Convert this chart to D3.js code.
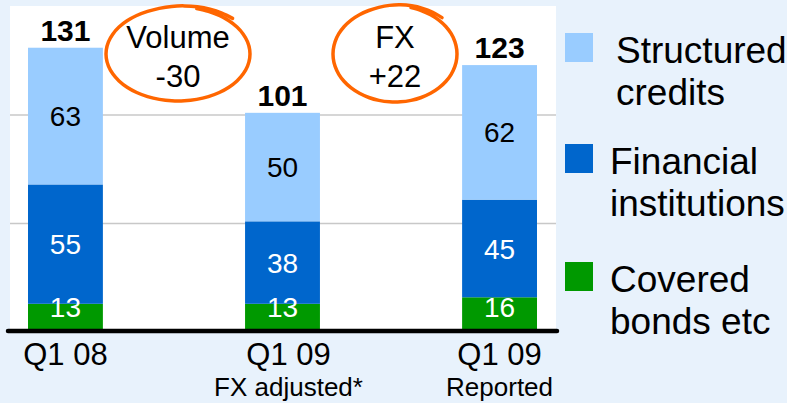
<!DOCTYPE html>
<html lang="en">
<head>
  <meta charset="UTF-8">
  <title>Structured credits, financial institutions, covered bonds</title>
  <script src="https://d3js.org/d3.v7.min.js"></script>
  <style>
    body {
      margin: 0;
      overflow: hidden;
      background: #e8f2fc;
    }
    svg {
      width: 787px;
      height: 403px;
      display: block;
      font-family: "Liberation Sans", Arial, sans-serif;
    }
  </style>
</head>
<body>

<svg></svg>

<script>
// data
const categories = ['Q1 08', 'Q1 09', 'Q1 09 R'];
const catLine1 = ['Q1 08', 'Q1 09', 'Q1 09'];
const catLine2 = ['', 'FX adjusted*', 'Reported'];
const seriesNames = ['Covered bonds etc', 'Financial institutions', 'Structured credits'];
const covered = [13, 13, 16];
const financial = [55, 38, 45];
const structured = [63, 50, 62];
const totals = [131, 101, 123];
const yTicks = [50, 100];

// the two circled bridge notes between the bars
const notes = [
  { label: 'Volume', value: '-30', cx: 178, cy: 54, rx: 72, ry: 47 },
  { label: 'FX', value: '+22', cx: 395, cy: 54, rx: 62, ry: 48 }
];

const colors = ['#009900', '#0066cc', '#99ccff'];
const labelColors = ['#ffffff', '#ffffff', '#000000'];

const width = 787;
const height = 403;
const plot = { left: 10, right: 556, top: 6, bottom: 332 };

const svg = d3.select('svg')
  .attr('viewBox', `0 0 ${width} ${height}`);

// white plot area
svg.append('rect')
  .attr('x', plot.left)
  .attr('y', plot.top)
  .attr('width', plot.right - plot.left)
  .attr('height', plot.bottom - plot.top)
  .attr('fill', '#ffffff');

const x = d3.scaleBand()
  .domain(categories)
  .range([28, 537])
  .paddingInner(0.655)
  .paddingOuter(0);

const y = d3.scaleLinear()
  .domain([0, 150])
  .range([plot.bottom, 6.5]);

// gridlines
svg.append('g')
  .selectAll('line')
  .data(yTicks)
  .enter().append('line')
  .attr('x1', plot.left)
  .attr('x2', plot.right)
  .attr('y1', d => y(d))
  .attr('y2', d => y(d))
  .attr('stroke', '#c8c8c8')
  .attr('stroke-width', 1.5);

// stack
const rows = categories.map((c, i) => ({
  cat: c,
  covered: covered[i],
  financial: financial[i],
  structured: structured[i]
}));
const stack = d3.stack().keys(['covered', 'financial', 'structured'])(rows);

const layer = svg.append('g')
  .selectAll('g')
  .data(stack)
  .enter().append('g')
  .attr('fill', (d, i) => colors[i]);

layer.selectAll('rect')
  .data(d => d)
  .enter().append('rect')
  .attr('x', d => x(d.data.cat))
  .attr('width', x.bandwidth())
  .attr('y', d => y(d[1]))
  .attr('height', d => y(d[0]) - y(d[1]));

// value labels inside segments
stack.forEach((s, si) => {
  svg.append('g')
    .selectAll('text')
    .data(s)
    .enter().append('text')
    .attr('x', d => x(d.data.cat) + x.bandwidth() / 2)
    .attr('y', d => Math.min((y(d[0]) + y(d[1])) / 2, y(0) - 25))
    .attr('dy', '0.36em')
    .attr('text-anchor', 'middle')
    .attr('font-size', 28)
    .attr('fill', labelColors[si])
    .text(d => d[1] - d[0]);
});

// totals
svg.append('g')
  .selectAll('text')
  .data(totals)
  .enter().append('text')
  .attr('x', (d, i) => x(categories[i]) + x.bandwidth() / 2)
  .attr('y', d => y(d) - 7)
  .attr('text-anchor', 'middle')
  .attr('font-size', 30)
  .attr('font-weight', 'bold')
  .attr('fill', '#000')
  .text(d => d);

// baseline
svg.append('line')
  .attr('x1', 8)
  .attr('x2', plot.right + 1)
  .attr('y1', y(0) - 1)
  .attr('y2', y(0) - 1)
  .attr('stroke', '#000')
  .attr('stroke-width', 4.5)
  .attr('stroke-linecap', 'round');

// category labels
const cat = svg.append('g')
  .selectAll('g')
  .data(categories)
  .enter().append('g')
  .attr('transform', (d, i) => `translate(${x(d) + x.bandwidth() / 2 + (i === 1 ? 6 : 0)},0)`);

cat.append('text')
  .attr('y', 365)
  .attr('text-anchor', 'middle')
  .attr('font-size', 31)
  .text((d, i) => catLine1[i]);

cat.append('text')
  .attr('y', 396)
  .attr('text-anchor', 'middle')
  .attr('font-size', 26)
  .text((d, i) => catLine2[i]);

// circled notes: a hand-drawn looking loop with a small overshoot
const loopLine = d3.line().curve(d3.curveCatmullRom);
notes.forEach(n => {
  const pts = [];
  for (let a = -75; a <= 320; a += 10) {
    const t = a * Math.PI / 180;
    const grow = a > 250 ? 1 + (a - 250) / 900 : 1;
    pts.push([n.cx + n.rx * grow * Math.cos(t), n.cy + n.ry * grow * Math.sin(t)]);
  }
  svg.append('path')
    .attr('d', loopLine(pts))
    .attr('fill', 'none')
    .attr('stroke', '#ff6600')
    .attr('stroke-width', 3.5)
    .attr('stroke-linecap', 'round');

  svg.append('text')
    .attr('x', n.cx)
    .attr('y', n.cy - 6)
    .attr('text-anchor', 'middle')
    .attr('font-size', 31)
    .text(n.label);
  svg.append('text')
    .attr('x', n.cx)
    .attr('y', n.cy + 33)
    .attr('text-anchor', 'middle')
    .attr('font-size', 31)
    .text(n.value);
});

// legend, top to bottom
const legendItems = [
  { color: colors[2], lines: ['Structured', 'credits'], y: 33, dx: 51 },
  { color: colors[1], lines: ['Financial', 'institutions'], y: 144, dx: 45 },
  { color: colors[0], lines: ['Covered', 'bonds etc'], y: 262, dx: 45 }
];

const legend = svg.append('g')
  .selectAll('g')
  .data(legendItems)
  .enter().append('g')
  .attr('transform', d => `translate(565,${d.y})`);

legend.append('rect')
  .attr('width', 28)
  .attr('height', 29)
  .attr('fill', d => d.color);

legend.each(function(item) {
  d3.select(this).selectAll('text')
    .data(item.lines)
    .enter().append('text')
    .attr('x', item.dx)
    .attr('y', (d, i) => 30 + i * 42)
    .attr('font-size', 37)
    .attr('fill', '#000')
    .text(d => d);
});
</script>

</body>
</html>
